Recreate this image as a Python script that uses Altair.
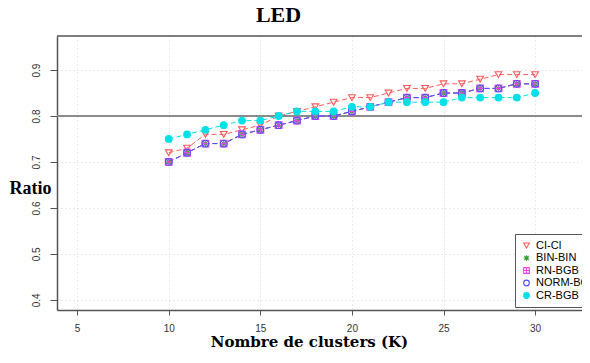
import altair as alt
import pandas as pd

# ---- data ----
K = list(range(10, 31))
ci_ci = [0.72, 0.73, 0.76, 0.76, 0.77, 0.78, 0.80, 0.81, 0.82, 0.83, 0.84,
         0.84, 0.85, 0.86, 0.86, 0.87, 0.87, 0.88, 0.89, 0.89, 0.89]
bin_bin = [0.70, 0.72, 0.74, 0.74, 0.76, 0.77, 0.78, 0.79, 0.80, 0.80, 0.81,
           0.82, 0.83, 0.84, 0.84, 0.85, 0.85, 0.86, 0.86, 0.87, 0.87]
rn_bgb = [0.70, 0.72, 0.74, 0.74, 0.76, 0.77, 0.78, 0.79, 0.80, 0.80, 0.81,
          0.82, 0.83, 0.84, 0.84, 0.85, 0.85, 0.86, 0.86, 0.87, 0.87]
norm_bgb = [0.70, 0.72, 0.74, 0.74, 0.76, 0.77, 0.78, 0.79, 0.80, 0.80, 0.81,
            0.82, 0.83, 0.84, 0.84, 0.85, 0.85, 0.86, 0.86, 0.87, 0.87]
cr_bgb = [0.75, 0.76, 0.77, 0.78, 0.79, 0.79, 0.80, 0.81, 0.81, 0.81, 0.82,
          0.82, 0.83, 0.83, 0.83, 0.83, 0.84, 0.84, 0.84, 0.84, 0.85]

series = ["CI-CI", "BIN-BIN", "RN-BGB", "NORM-BGB", "CR-BGB"]
values = [ci_ci, bin_bin, rn_bgb, norm_bgb, cr_bgb]
ref_value = [0.8]
x_ticks = [5, 10, 15, 20, 25, 30]
y_ticks = [0.4, 0.5, 0.6, 0.7, 0.8, 0.9]

# ---- styles ----
line_colors = ["#FF5A5A", "#33A033", "#EE44EE", "#5050FF", "#00E0E8"]
fill_colors = ["#ffffff00", "#ffffff00", "#ffffff00", "#ffffff00", "#00E0E8"]
shapes = [
    "triangle-down",
    "M-1,0L1,0M0,-1L0,1M-0.75,-0.75L0.75,0.75M-0.75,0.75L0.75,-0.75",
    "M-1,-1L1,-1L1,1L-1,1Z M-1,0L1,0 M0,-1L0,1",
    "circle",
    "circle",
]

rows = []
for s, vals in zip(series, values):
    for k, v in zip(K, vals):
        rows.append({"K": k, "Ratio": v, "Series": s})
df = pd.DataFrame(rows)

W, H = 525, 274

x_enc = alt.X(
    "K:Q",
    scale=alt.Scale(domain=[3.9, 32.56], nice=False, zero=False),
    axis=alt.Axis(
        values=x_ticks, title="Nombre de clusters (K)",
        tickSize=5, tickColor="#555555", domainColor="#555555", domainWidth=1.5,
        labelFont="Liberation Sans", labelFontSize=10, labelColor="#333333",
        labelPadding=8, grid=True, gridColor="#d4d4d4", gridDash=[1, 3],
        titleFont="DejaVu Serif", titleFontSize=15, titleFontWeight="bold",
        titleColor="#000000", titleX=252, titleY=31, titleAlign="center",
        titleBaseline="middle",
    ),
)
y_enc = alt.Y(
    "Ratio:Q",
    scale=alt.Scale(domain=[0.378, 0.974], nice=False, zero=False),
    axis=alt.Axis(
        values=y_ticks, format=".1f", title="Ratio",
        tickSize=7, tickColor="#555555", domainColor="#555555", domainWidth=1.5,
        labelFont="Liberation Sans", labelFontSize=10, labelColor="#333333",
        labelAngle=270, labelAlign="center", labelBaseline="bottom",
        labelPadding=9, grid=True, gridColor="#d4d4d4", gridDash=[1, 3],
        titleFont="Liberation Serif", titleFontSize=18, titleFontWeight="bold",
        titleColor="#000000", titleAngle=0, titleX=-27, titleY=152,
        titleAlign="center", titleBaseline="middle",
    ),
)

legend = alt.Legend(
    orient="none", legendX=458, legendY=198, title=None,
    labelFont="Liberation Sans", labelFontSize=11, labelColor="#000000",
    strokeColor="#555555", fillColor="white", padding=6, rowPadding=0.5,
    symbolSize=32, symbolStrokeWidth=1.1, labelOffset=4,
)

ref_rule = alt.Chart(pd.DataFrame({"y": ref_value})).mark_rule(
    color="#8a8a8a", strokeWidth=2
).encode(y=alt.Y("y:Q"))

# line colour scale uses the reversed order so that its (hidden) legend
# is not merged with the point legend
lines = alt.Chart(df).mark_line(strokeDash=[5, 3], strokeWidth=1).encode(
    x=x_enc, y=y_enc,
    color=alt.Color("Series:N",
                    scale=alt.Scale(domain=series[::-1], range=line_colors[::-1]),
                    legend=None),
)

points = alt.Chart(df).mark_point(filled=True, size=45, strokeWidth=1.1, opacity=1).encode(
    x=x_enc, y=y_enc,
    stroke=alt.Stroke("Series:N", scale=alt.Scale(domain=series, range=line_colors), legend=legend),
    fill=alt.Fill("Series:N", scale=alt.Scale(domain=series, range=fill_colors), legend=legend),
    shape=alt.Shape("Series:N", scale=alt.Scale(domain=series, range=shapes), legend=legend),
)

top_frame = alt.Chart(pd.DataFrame({"a": [0]})).mark_rule(
    color="#555555", strokeWidth=1.5
).encode(x=alt.value(0), x2=alt.value(W), y=alt.value(0), y2=alt.value(0))

chart = alt.layer(ref_rule, lines, points, top_frame).properties(
    width=W, height=H,
    title=alt.TitleParams(
        "LED", font="Liberation Serif", fontSize=22, fontWeight="bold",
        color="#000000", anchor="middle", dx=-41, offset=8,
        frame="group",
    ),
    autosize=alt.AutoSizeParams(type="none"),
    padding={"left": 49, "top": 28, "right": 0, "bottom": 45},
    background="white",
).configure_view(strokeWidth=0)

chart.save("out.html", embed_options={"renderer": "svg", "actions": False})
